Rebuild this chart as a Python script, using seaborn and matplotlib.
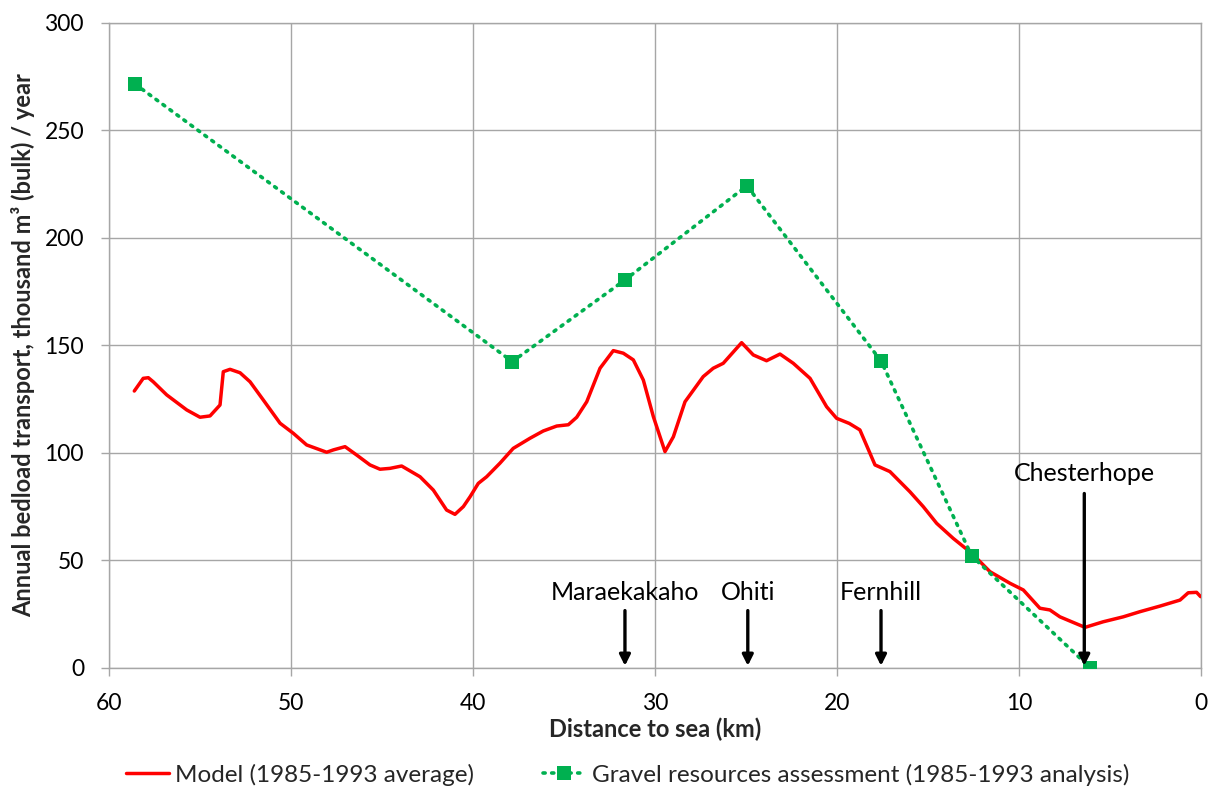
import matplotlib
matplotlib.use("Agg")
import matplotlib.pyplot as plt
import seaborn as sns
import pandas as pd

# Modelled annual bedload transport along the river (distance to sea, km)
model_km = [58.61, 58.12, 57.84, 57.57, 56.83, 55.73, 55.0, 54.45, 53.90, 53.72, 53.35,
            52.80, 52.25, 51.52, 50.60, 49.87, 49.14, 48.04, 47.67, 47.03, 46.39, 45.66,
            45.11, 44.56, 43.92, 42.91, 42.18, 41.45, 40.99, 40.53, 40.16, 39.71, 39.25,
            38.52, 37.79, 36.87, 36.14, 35.40, 34.76, 34.30, 33.75, 33.02, 32.29, 31.74,
            31.19, 30.64, 30.09, 29.45, 28.99, 28.35, 27.35, 26.80, 26.25, 25.24, 24.60,
            23.87, 23.13, 22.40, 21.48, 20.57, 20.02, 19.32, 18.74, 17.91, 17.09, 15.99,
            15.26, 14.52, 13.61, 12.60, 11.59, 10.49, 9.76, 8.85, 8.30, 7.75, 7.02, 6.37,
            5.37, 4.27, 3.35, 2.25, 1.15, 0.70, 0.24, 0.02]
model_val = [128.7, 134.6, 134.9, 133.0, 126.9, 119.9, 116.5, 117.1, 122.2, 137.7, 138.8,
             137.2, 133.0, 124.5, 113.7, 109.0, 103.6, 100.2, 101.3, 102.8, 98.9, 94.3,
             92.3, 92.7, 93.8, 88.8, 82.6, 73.3, 71.3, 74.9, 79.5, 85.7, 88.8,
             95.1, 102.0, 106.7, 110.1, 112.4, 113.0, 116.5, 123.7, 139.3, 147.5, 146.3,
             143.2, 133.8, 116.8, 100.5, 107.4, 123.7, 135.4, 139.3, 141.6, 151.2, 145.5,
             142.8, 145.9, 141.6, 134.6, 121.4, 116.0, 113.6, 110.6, 94.3, 91.2, 81.8,
             74.9, 67.1, 60.1, 53.2, 44.6, 39.2, 36.1, 27.6, 26.8, 23.6, 21.0, 18.7,
             21.3, 23.6, 26.0, 28.6, 31.4, 34.8, 35.0, 33.0]

# Gravel resources assessment estimates
gravel_km = [58.57, 37.84, 31.65, 24.95, 17.58, 12.60, 6.10]
gravel_val = [271.6, 142.4, 180.4, 224.2, 142.7, 52.0, 0.0]

# Named locations along the river
site_names = ["Maraekakaho", "Ohiti", "Fernhill", "Chesterhope"]
site_km = [31.65, 24.9, 17.58, 6.41]

model_label = "Model (1985-1993 average)"
gravel_label = "Gravel resources assessment (1985-1993 analysis)"

sns.set_style("white")
plt.rcParams["font.family"] = ["Lato", "DejaVu Sans"]

fig = plt.figure(figsize=(12.18, 7.87), dpi=100)
ax = fig.add_axes([0.0895, 0.1518, 0.8965, 0.819])

model_df = pd.DataFrame({"km": model_km, "val": model_val})
gravel_df = pd.DataFrame({"km": gravel_km, "val": gravel_val})

sns.lineplot(data=model_df, x="km", y="val", sort=False, ax=ax, color="#FF0000",
             linewidth=2.5, label=model_label, zorder=3)
sns.lineplot(data=gravel_df, x="km", y="val", sort=False, ax=ax, color="#00B050",
             linewidth=2.6, linestyle=(0, (0.6, 1.8)), dash_capstyle="round",
             marker="s", markersize=10, markeredgewidth=0, label=gravel_label, zorder=4)

ax.set_xlim(60, 0)
ax.set_ylim(0, 300)
ax.set_xticks(range(60, -1, -10))
ax.set_yticks(range(0, 301, 50))
ax.grid(True, color="#a6a6a6", linewidth=1.0)
ax.set_axisbelow(True)
for s in ax.spines.values():
    s.set_color("#a6a6a6")
    s.set_linewidth(1.0)
ax.tick_params(axis="both", labelsize=16.5, colors="#a6a6a6", labelcolor="black",
               length=6, width=1, direction="out", left=True, bottom=True, pad=12)

ax.set_xlabel("Distance to sea (km)", fontsize=17, fontweight="bold", labelpad=3)
ax.set_ylabel("Annual bedload transport, thousand m³ (bulk) / year", fontsize=17,
              fontweight="bold", labelpad=7)

# Arrows marking the named locations
for name, km in zip(site_names, site_km):
    if name == "Chesterhope":
        top, text_y = 81, 90.5
    else:
        top, text_y = 26.5, 35
    ax.annotate("", xy=(km, 0.8), xytext=(km, top),
                arrowprops=dict(arrowstyle="-|>", color="black", lw=2.4,
                                mutation_scale=16, shrinkA=0, shrinkB=0), zorder=5)
    ax.text(km, text_y, name, ha="center", va="center", fontsize=18, color="black",
            zorder=6)

ax.legend(loc="upper center", bbox_to_anchor=(0.475, -0.115), ncol=2, frameon=False,
          fontsize=17.5, handlelength=1.8, handletextpad=0.25, columnspacing=2.8)

fig.savefig("out.png", dpi=100)
